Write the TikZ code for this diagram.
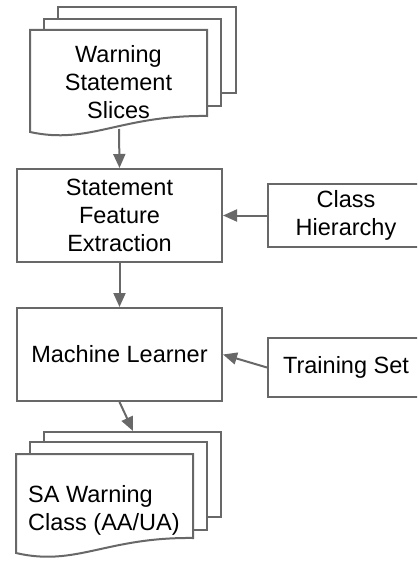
\documentclass[tikz,border=0pt]{standalone}
\usepackage{fontspec}
\setmainfont{Liberation Sans}
\usetikzlibrary{arrows.meta}
\definecolor{lc}{HTML}{686868}
\begin{document}
\begin{tikzpicture}[x=1pt,y=-1pt,
  box/.style={draw=lc, line width=2pt, fill=white, rectangle, inner sep=0pt,
    font=\fontsize{23.5}{28}\selectfont, align=center},
  sheet/.style={draw=lc, line width=2pt, fill=white, line join=miter},
  conn/.style={draw=lc, line width=2pt, -{Triangle[length=14pt,width=12pt]}},
  lbl/.style={font=\fontsize{23.5}{28}\selectfont, inner sep=0pt}]
\useasboundingbox (0,0) rectangle (417,561);
\clip (0,0) rectangle (417,561);
% top document stack
\draw[sheet] (58,7) rectangle (236,93);
\draw[sheet] (44,19) rectangle (221,106);
\draw[sheet] (30,30) -- (207,30) -- (207,116) .. controls (120,115) and (90,145) .. (30,132) -- cycle;
\node[lbl, align=center] (slices) at (118.5,82.6) {Warning\\Statement\\Slices};
\coordinate (slicesout) at (119,129);
% boxes
\node[box, minimum width=205pt, minimum height=93pt] (sfe) at (119.5,215.5) {Statement\\Feature\\Extraction};
\node[box, minimum width=205pt, minimum height=93pt] (ml) at (119.5,354.5) {Machine Learner};
\node[box, minimum width=156pt, minimum height=63pt] (ch) at (346,215.5) {Class\\Hierarchy};
\node[box, minimum width=156pt, minimum height=59pt] (ts) at (346,367.5) {Training Set};
% bottom document stack
\draw[sheet] (44,432) rectangle (221,517);
\draw[sheet] (30,442) rectangle (207,530);
\draw[sheet] (16,454) -- (193,454) -- (193,538) .. controls (106,537) and (76,567) .. (16,553) -- cycle;
\node[lbl, align=left, anchor=west] (sawc) at (28,510) {SA Warning\\Class (AA/UA)};
\coordinate (sawcin) at (133,431);
% connectors
\draw[conn] (slicesout) -- (sfe.north);
\draw[conn] (sfe.south) -- (ml.north);
\draw[conn] (ch.west) -- (sfe.east);
\draw[conn] (ts.west) -- (ml.east);
\draw[conn] (ml.south) -- (sawcin);
\end{tikzpicture}
\end{document}
